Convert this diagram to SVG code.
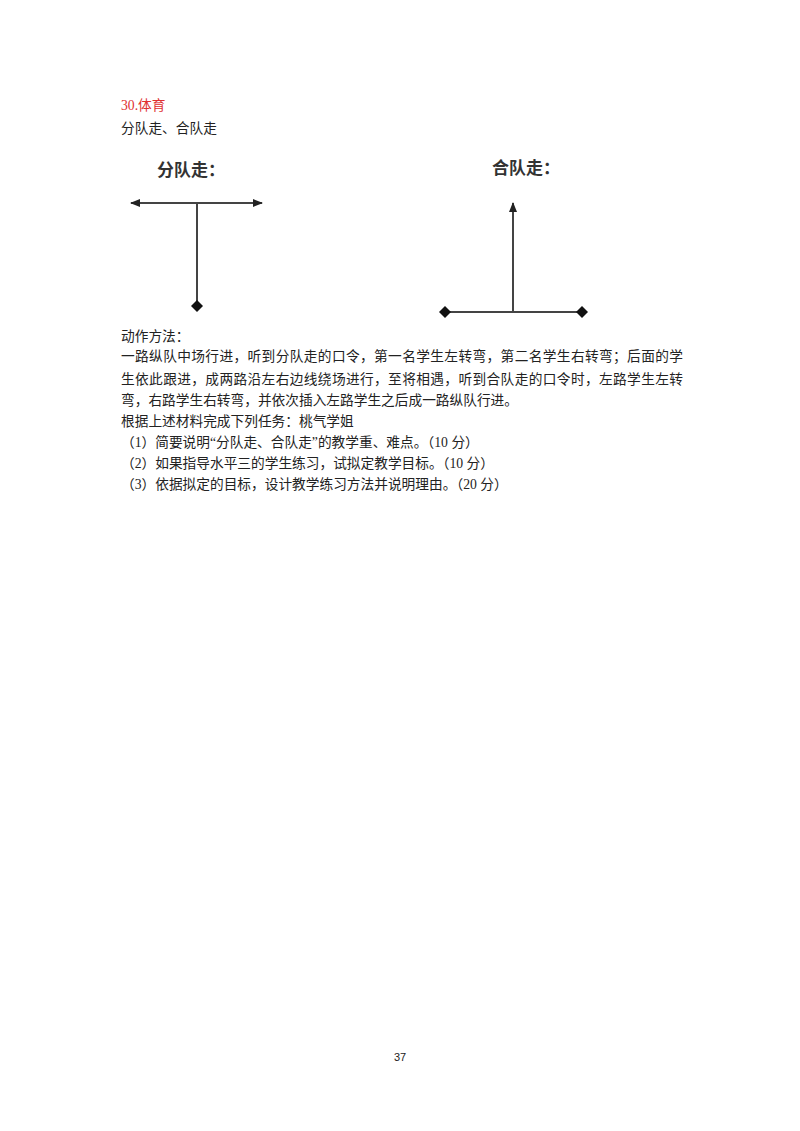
<svg xmlns="http://www.w3.org/2000/svg" width="800" height="1131" viewBox="0 0 800 1131">
<style>
text{font-family:"Liberation Serif","Noto Sans CJK SC",serif;font-size:13.7px;fill:#222}
.lab{font-family:"Noto Sans CJK SC",sans-serif;font-weight:bold;font-size:17px;fill:#333}
.ln{stroke:#444;stroke-width:2;fill:none}
</style>
<defs>
<marker id="ar" viewBox="0 0 10 10" refX="9" refY="5" markerWidth="5" markerHeight="5" orient="auto-start-reverse"><path d="M0,1 L10,5 L0,9 Z" fill="#222"/></marker>
<marker id="dm" viewBox="0 0 10 10" refX="5" refY="5" markerWidth="6" markerHeight="6" orient="auto"><path d="M0,5 L5,0 L10,5 L5,10 Z" fill="#111"/></marker>
</defs>
<rect width="800" height="1131" fill="#fff"/>
<text x="121" y="110" style="fill:#e03030">30.体育</text>
<text x="121" y="133">分队走、合队走</text>
<g id="split">
<text class="lab" x="157" y="176">分队走：</text>
</g>
<g id="merge">
<text class="lab" x="492" y="174">合队走：</text>
</g>
<g id="connectors">
<line class="ln" x1="197" y1="203" x2="131" y2="203" marker-end="url(#ar)"/>
<line class="ln" x1="197" y1="203" x2="262" y2="203" marker-end="url(#ar)"/>
<line class="ln" x1="197" y1="203" x2="197" y2="306" marker-end="url(#dm)"/>
<line class="ln" x1="513" y1="312" x2="513" y2="203" marker-end="url(#ar)"/>
<line class="ln" x1="445" y1="312" x2="582" y2="312" marker-start="url(#dm)" marker-end="url(#dm)"/>
</g>
<text x="121" y="341">动作方法：</text>
<text x="121" y="361" textLength="562">一路纵队中场行进，听到分队走的口令，第一名学生左转弯，第二名学生右转弯；后面的学</text>
<text x="121" y="384" textLength="562">生依此跟进，成两路沿左右边线绕场进行，至将相遇，听到合队走的口令时，左路学生左转</text>
<text x="121" y="405">弯，右路学生右转弯，并依次插入左路学生之后成一路纵队行进。</text>
<text x="121" y="426">根据上述材料完成下列任务：桃气学姐</text>
<text x="121" y="447">（1）简要说明“分队走、合队走”的教学重、难点。（10 分）</text>
<text x="121" y="468">（2）如果指导水平三的学生练习，试拟定教学目标。（10 分）</text>
<text x="121" y="489">（3）依据拟定的目标，设计教学练习方法并说明理由。（20 分）</text>
<text x="400" y="1061" text-anchor="middle" style="font-family:'Liberation Sans',sans-serif;font-size:11px">37</text>
</svg>
